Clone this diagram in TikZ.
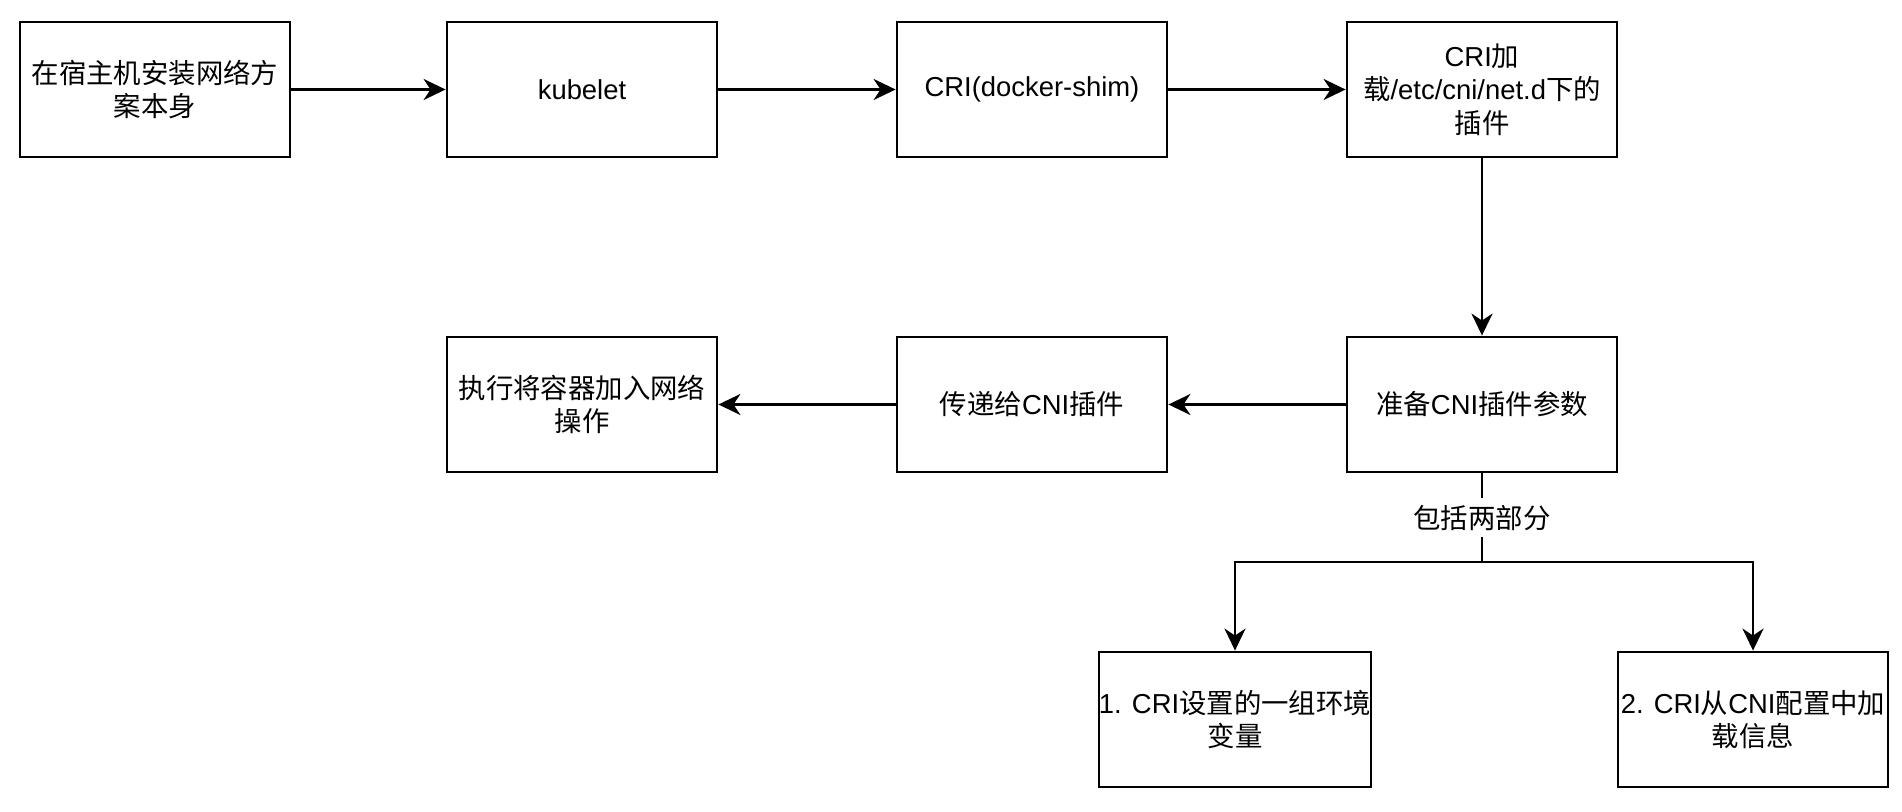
\documentclass[tikz,border=0pt]{standalone}
\usepackage{fontspec}
\setmainfont{Liberation Sans}
\newfontfamily\cjkfont{Noto Sans CJK SC}
\usepackage{tikz}
\usetikzlibrary{arrows.meta}
\newcommand{\zh}[1]{{\cjkfont #1}}

\begin{document}
\begin{tikzpicture}[
	box/.style={draw, line width=0.8pt, minimum width=2.7cm, minimum height=1.35cm, align=center, inner xsep=0pt, inner ysep=1pt},
	every node/.style={font=\fontsize{7.8}{9.5}\selectfont},
	>={Stealth[length=2.2mm,width=2.1mm,inset=0.7mm]},
	line width=0.8pt]
	\useasboundingbox (0,0) rectangle (19.02,-8.12);
	\node[box] (1) at (1.55,-0.895) {\zh{在宿主机安装网络方}\\\zh{案本身}};
	\node[box] (2) at (5.82,-0.895) {kubelet};
	\node[box] (3) at (10.32,-0.895) {CRI(docker-shim)};
	\node[box] (4) at (14.82,-0.895) {CRI\zh{加}\\\zh{载}/etc/cni/net.d\zh{下的}\\\zh{插件}};
	\node[box] (5) at (14.82,-4.045) {\zh{准备}CNI\zh{插件参数}};
	\node[box] (6) at (10.32,-4.045) {\zh{传递给}CNI\zh{插件}};
	\node[box] (7) at (5.82,-4.045) {\zh{执行将容器加入网络}\\\zh{操作}};
	\node[box] (8) at (12.35,-7.195) {1. CRI\zh{设置的一组环境}\\\zh{变量}};
	\node[box] (9) at (17.53,-7.195) {2. CRI\zh{从}CNI\zh{配置中加}\\\zh{载信息}};
	\coordinate (j) at (14.82,-5.62);
	%
	\draw [->] (1) to[] (2);
	\draw [->] (2) to[] (3);
	\draw [->] (3) to[] (4);
	\draw [->] (4) to[] (5);
	\draw [->] (5) to[] (6);
	\draw [->] (6) to[] (7);
	\draw (5) to[] node[fill=white, inner sep=2pt]{\zh{包括两部分}} (j);
	\draw [->] (j) -| (8);
	\draw [->] (j) -| (9);
\end{tikzpicture}
\end{document}
